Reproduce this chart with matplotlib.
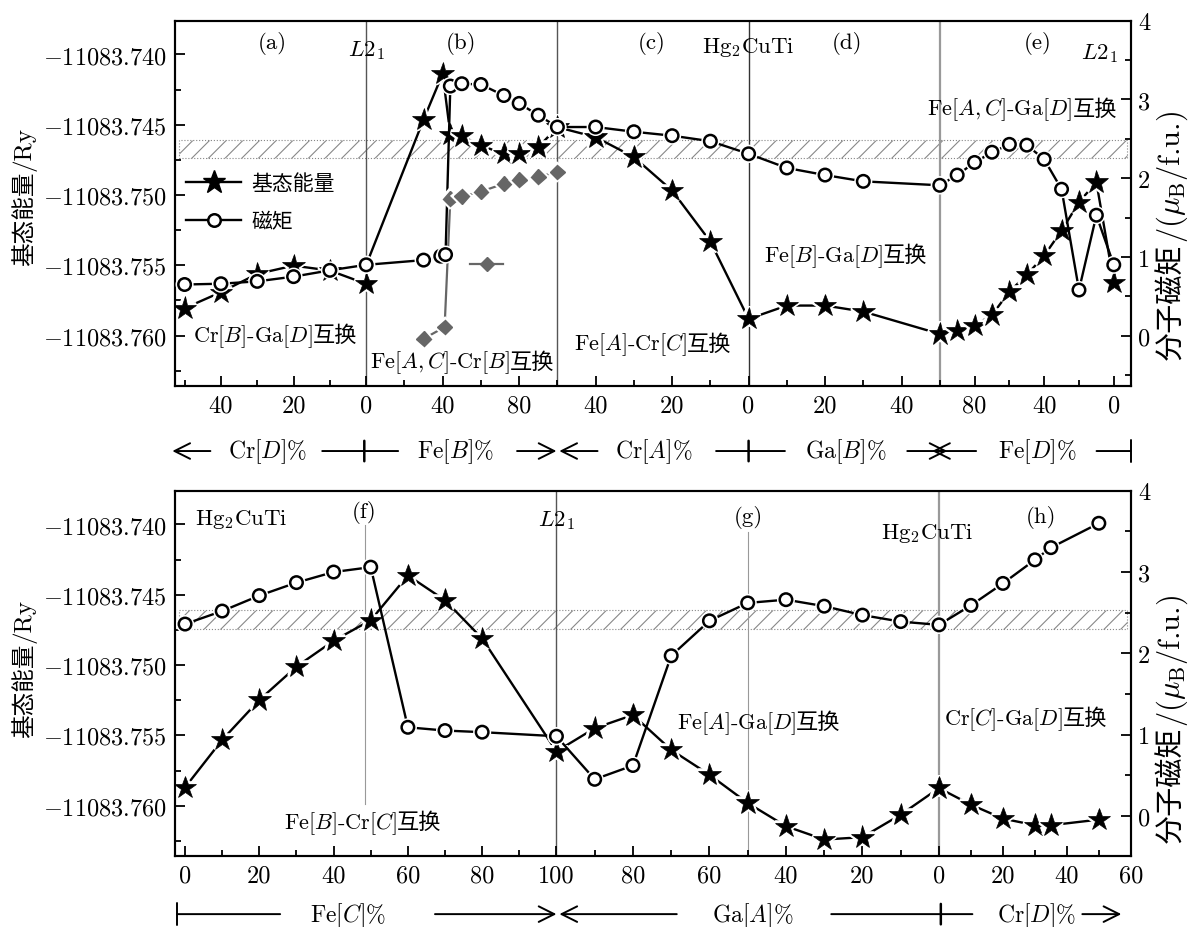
import matplotlib
matplotlib.use('Agg')
import matplotlib.pyplot as plt
import numpy as np
from matplotlib import transforms
from matplotlib import patheffects as pe
from matplotlib.lines import Line2D
from matplotlib.offsetbox import TextArea, HPacker, AnnotationBbox
from matplotlib.ticker import MultipleLocator, FuncFormatter

plt.rcParams['font.family'] = ['cmr10', 'Noto Sans CJK SC', 'DejaVu Sans']
plt.rcParams['mathtext.fontset'] = 'cm'
plt.rcParams['axes.formatter.use_mathtext'] = True
plt.rcParams['axes.unicode_minus'] = False
plt.rcParams['hatch.linewidth'] = 0.8
CJK = 'Noto Sans CJK SC'

# ---------------- upper panel ----------------
# (a) Cr[D]%   (b) Fe[B]%   (c) Cr[A]%   (d) Ga[B]%   (e) Fe[D]%
a_x = [50, 40, 30, 20, 10, 0]
a_E = [-11083.75805, -11083.75691, -11083.75561, -11083.75502, -11083.75537, -11083.75632]
a_M = [0.65, 0.66, 0.69, 0.75, 0.83, 0.90]

b_xE = [0, 30, 40, 44, 50, 60, 72, 80, 90, 100]
b_E = [-11083.75497, -11083.74463, -11083.74137, -11083.74570, -11083.74580,
       -11083.74648, -11083.74707, -11083.74707, -11083.74659, -11083.74517]
b_xM = [0, 30, 39, 41.5, 44, 50, 60, 72, 80, 90, 100]
b_M = [0.90, 0.96, 1.01, 1.03, 3.17, 3.20, 3.19, 3.05, 2.95, 2.80, 2.65]
b_xD = [30, 41, 44, 50, 60, 72, 80, 90, 100]
b_D = [-0.04, 0.11, 1.74, 1.77, 1.83, 1.93, 1.98, 2.02, 2.08]

c_x = [50, 40, 30, 20, 10, 0]
c_E = [-11083.74517, -11083.74588, -11083.74730, -11083.74968, -11083.75331, -11083.75881]
c_M = [2.65, 2.65, 2.59, 2.54, 2.47, 2.31]

d_x = [0, 10, 20, 30, 50]
d_E = [-11083.75881, -11083.75786, -11083.75786, -11083.75829, -11083.75988]
d_M = [2.31, 2.13, 2.04, 1.96, 1.91]

e_x = [100, 90, 80, 70, 60, 50, 40, 30, 20, 10, 0]
e_E = [-11083.75988, -11083.75964, -11083.75929, -11083.75853, -11083.75687, -11083.75568,
       -11083.75431, -11083.75253, -11083.75051, -11083.74908, -11083.75620]
e_M = [1.91, 2.04, 2.20, 2.33, 2.43, 2.42, 2.24, 1.86, 0.58, 1.53, 0.90]

# ---------------- lower panel ----------------
# (f) Fe[C]%   (g) Ga[A]%   (h) Cr[D]%
f_x = [0, 10, 20, 30, 40, 50, 60, 70, 80, 100]
f_E = [-11083.75870, -11083.75532, -11083.75248, -11083.75011, -11083.74827,
       -11083.74681, -11083.74362, -11083.74539, -11083.74811, -11083.75614]
f_M = [2.36, 2.52, 2.71, 2.87, 3.00, 3.06, 1.09, 1.05, 1.03, 0.98]

g_x = [100, 90, 80, 70, 60, 50, 40, 30, 20, 10, 0]
g_E = [-11083.75614, -11083.75449, -11083.75355, -11083.75603, -11083.75780, -11083.75981,
       -11083.76146, -11083.76241, -11083.76224, -11083.76064, -11083.75875]
g_M = [0.98, 0.45, 0.62, 1.97, 2.40, 2.62, 2.66, 2.58, 2.47, 2.39, 2.35]

h_x = [0, 10, 20, 30, 35, 50]
h_E = [-11083.75875, -11083.75993, -11083.76092, -11083.76139, -11083.76139, -11083.76099]
h_M = [2.35, 2.59, 2.86, 3.15, 3.30, 3.60]

band = [-11083.7474, -11083.7461]

# composition -> position on the shared x axis: (origin, slope) per segment
TOP = {'a': (0.0, -0.019), 'b': (0.0, 0.01), 'c': (2.0, -0.02), 'd': (2.0, 0.02), 'e': (3.91, -0.0091)}
BOT = {'f': (0.0, 1.0), 'g': (203.0, -1.03), 'h': (203.0, 0.861)}

TICK = 17.5


def pos(seg, v):
    return seg[0] + seg[1] * np.asarray(v, float)


MK = {
    'star': dict(marker='*', ms=17, color='k', mfc='k', mec='k', mew=0.5, lw=1.7),
    'circ': dict(marker='o', ms=9, mfc='white', mec='k', mew=1.8, color='k', lw=1.7),
    'diam': dict(marker='D', ms=7.5, mfc='#666666', mec='#666666', color='#666666', lw=1.6),
}


def series(ax, x, y, kind, skip=0):
    st = MK[kind]
    ax.plot(x, y, color=st['color'], lw=st['lw'], zorder=2)
    kw = {k: v for k, v in st.items() if k != 'lw'}
    ax.plot(x[skip:], y[skip:], ls='none', zorder=3,
            path_effects=[pe.withStroke(linewidth=4, foreground='white')], **kw)


def blend(ax):
    return transforms.blended_transform_factory(ax.transData, ax.transAxes)


def label(ax, x, y, parts, size=16):
    kids = [TextArea(s, textprops=dict(size=size, family=CJK if cjk else 'cmr10')) for s, cjk in parts]
    box = HPacker(children=kids, align='baseline', pad=0, sep=0)
    ab = AnnotationBbox(box, (x, y), xycoords=blend(ax), frameon=False, pad=0,
                        box_alignment=(0.5, 0.5), annotation_clip=False, zorder=5)
    ax.add_artist(ab)


def arrow(ax, x0, x1, y, style='->'):
    T = blend(ax)
    ax.annotate('', xy=(x1, y), xytext=(x0, y), xycoords=T, textcoords=T, annotation_clip=False,
                arrowprops=dict(arrowstyle=style, lw=1.4, color='k', shrinkA=0, shrinkB=0,
                                mutation_scale=28))


def bar(ax, x, y):
    T = blend(ax)
    ax.annotate('', xy=(x, y - 0.028), xytext=(x, y + 0.028), xycoords=T, textcoords=T,
                annotation_clip=False, arrowprops=dict(arrowstyle='-', lw=1.8, color='k',
                                                       shrinkA=0, shrinkB=0))


def set_xticks(ax, segs, spec):
    major, labels, minor = [], [], []
    for key, mn, mj in spec:
        minor += list(pos(segs[key], mn))
        major += list(pos(segs[key], mj))
        labels += [str(v) for v in mj]
    ax.set_xticks(major, labels)
    ax.set_xticks(minor, minor=True)


def style_axes(ax, ax2, rlim):
    ax.set_ylim(-11083.76356, -11083.7376)
    ax.yaxis.set_major_locator(MultipleLocator(0.005))
    ax.yaxis.set_minor_locator(MultipleLocator(0.0025))
    ax.yaxis.set_major_formatter(FuncFormatter(lambda v, p: '$%.3f$' % v))
    ax.tick_params(which='both', direction='in', top=False, right=False, labelsize=TICK, width=1.3)
    ax.tick_params(which='major', length=7, pad=6)
    ax.tick_params(which='minor', length=4)
    ax2.set_ylim(*rlim)
    ax2.yaxis.set_major_locator(MultipleLocator(1))
    ax2.yaxis.set_minor_locator(MultipleLocator(0.5))
    ax2.yaxis.set_major_formatter(FuncFormatter(lambda v, p: '%d' % round(v)))
    ax2.tick_params(which='both', direction='in', labelsize=TICK, width=1.3)
    ax2.tick_params(which='major', length=7, pad=5)
    ax2.tick_params(which='minor', length=4)
    for a in (ax, ax2):
        for s in a.spines.values():
            s.set_linewidth(1.5)
    ax.axhspan(band[0], band[1], xmin=0.004, xmax=0.996, facecolor='none', edgecolor='#888888',
               hatch='//', lw=0.8, ls=':', zorder=1)


def ylabels(ybase_l, ybase_r):
    fig.text(0.0258, ybase_l, '基态能量', family=CJK, size=17, rotation=90,
             rotation_mode='anchor', ha='right', va='baseline')
    fig.text(0.0258, ybase_l, '/Ry', family='cmr10', size=18, rotation=90,
             rotation_mode='anchor', ha='left', va='baseline')
    fig.text(0.992, ybase_r, '分子磁矩', family=CJK, size=21, rotation=90,
             rotation_mode='anchor', ha='right', va='baseline')
    fig.text(0.992, ybase_r, r'/($\mu_{\rm B}$/f.u.)', family='cmr10', size=22, rotation=90,
             rotation_mode='anchor', ha='left', va='baseline')


fig = plt.figure(figsize=(11.89, 9.28), dpi=100)

# ================= upper panel =================
ax = fig.add_axes([0.1472, 0.5833, 0.8040, 0.3933])
ax2 = ax.twinx()
ax.set_xlim(-1.0, 4.0)
style_axes(ax, ax2, (-0.635, 4.0))

ax.axvline(0, color='#555555', lw=1.0, zorder=1)
ax.axvline(1, color='#555555', lw=1.0, zorder=1)
ax.axvline(2, color='#333333', lw=1.0, zorder=1)
ax.axvline(3, color='#999999', lw=1.6, zorder=1)

for key, xs, E in [('a', a_x, a_E), ('b', b_xE, b_E), ('c', c_x, c_E), ('d', d_x, d_E), ('e', e_x, e_E)]:
    series(ax, pos(TOP[key], xs), np.array(E), 'star', skip=1 if key == 'b' else 0)
for key, xs, M in [('a', a_x, a_M), ('b', b_xM, b_M), ('c', c_x, c_M), ('d', d_x, d_M), ('e', e_x, e_M)]:
    series(ax2, pos(TOP[key], xs), np.array(M), 'circ')
series(ax2, pos(TOP['b'], b_xD), np.array(b_D), 'diam')

set_xticks(ax, TOP, [('a', [50, 30, 10], [40, 20, 0]), ('b', [20, 60, 100], [40, 80]),
                     ('c', [30, 10], [40, 20, 0]), ('d', [10, 30, 50], [20, 40]),
                     ('e', [60, 20], [80, 40, 0])])

T = blend(ax2)
for x, y, s in [(-0.49, 0.939, '(a)'), (0.0, 0.922, '$L2_1$'), (0.497, 0.939, '(b)'),
                (1.495, 0.939, '(c)'), (2.0, 0.929, 'Hg$_2$CuTi'), (2.514, 0.939, '(d)'),
                (3.51, 0.939, '(e)'), (3.837, 0.914, '$L2_1$')]:
    ax2.text(x, y, s, transform=T, ha='center', va='center', size=16.5)
label(ax2, 3.43, 0.758, [('Fe[$A,C$]-Ga[$D$]', 0), ('互换', 1)])
label(ax2, -0.478, 0.137, [('Cr[$B$]-Ga[$D$]', 0), ('互换', 1)])
label(ax2, 0.503, 0.065, [('Fe[$A,C$]-Cr[$B$]', 0), ('互换', 1)])
label(ax2, 1.50, 0.114, [('Fe[$A$]-Cr[$C$]', 0), ('互换', 1)])
label(ax2, 2.507, 0.356, [('Fe[$B$]-Ga[$D$]', 0), ('互换', 1)])

h_star = Line2D([], [], color='k', lw=1.7, marker='*', ms=17)
h_circ = Line2D([], [], color='k', lw=1.7, marker='o', ms=9, mfc='white', mew=1.8)
leg = ax2.legend([h_star, h_circ], ['基态能量', '磁矩'], loc='upper left',
                 bbox_to_anchor=(0.012, 0.585), frameon=False, prop=dict(family=CJK, size=15),
                 handlelength=2.6, handletextpad=0.5, labelspacing=0.75, borderpad=0, borderaxespad=0)
ax2.add_artist(leg)
h_diam = Line2D([], [], color='#666666', lw=1.6, marker='D', ms=7.5)
ax2.legend([h_diam], [''], loc='center left', bbox_to_anchor=(0.3086, 0.329), frameon=False,
           prop=dict(size=10), handlelength=2.4, borderpad=0, borderaxespad=0, handletextpad=0)

yr = -0.179
arrow(ax, -0.815, -1.014, yr)
ax.text(-0.517, yr, 'Cr[$D$]%', transform=blend(ax), ha='center', va='center', size=17)
arrow(ax, -0.23, 0.167, yr, '-')
bar(ax, -0.01, yr)
ax.text(0.465, yr, 'Fe[$B$]%', transform=blend(ax), ha='center', va='center', size=17)
arrow(ax, 0.789, 0.995, yr)
arrow(ax, 1.21, 1.01, yr)
ax.text(1.505, yr, 'Cr[$A$]%', transform=blend(ax), ha='center', va='center', size=17)
arrow(ax, 1.83, 2.19, yr, '-')
bar(ax, 2.0, yr)
ax.text(2.51, yr, 'Ga[$B$]%', transform=blend(ax), ha='center', va='center', size=17)
arrow(ax, 2.83, 3.04, yr)
arrow(ax, 3.19, 2.96, yr)
ax.text(3.51, yr, 'Fe[$D$]%', transform=blend(ax), ha='center', va='center', size=17)
arrow(ax, 3.82, 4.0, yr, '|-|, widthA=0, widthB=0.28')

# ================= lower panel =================
bx = fig.add_axes([0.1472, 0.0768, 0.8040, 0.3933])
bx2 = bx.twinx()
bx.set_xlim(-2.7, 254.7)
style_axes(bx, bx2, (-0.49, 4.0))

bx.axvline(48.5, ymin=0.142, ymax=0.905, color='#999999', lw=0.8, zorder=1)
bx.axvline(100, color='#555555', lw=1.0, zorder=1)
bx.axvline(151.5, ymin=0.0, ymax=0.886, color='#999999', lw=0.8, zorder=1)
bx.axvline(203, color='#999999', lw=1.6, zorder=1)

for key, xs, E in [('f', f_x, f_E), ('g', g_x, g_E), ('h', h_x, h_E)]:
    series(bx, pos(BOT[key], xs), np.array(E), 'star')
for key, xs, M in [('f', f_x, f_M), ('g', g_x, g_M), ('h', h_x, h_M)]:
    series(bx2, pos(BOT[key], xs), np.array(M), 'circ')

set_xticks(bx, BOT, [('f', [10, 30, 50, 70, 90], [0, 20, 40, 60, 80, 100]),
                     ('g', [90, 70, 50, 30, 10], [80, 60, 40, 20, 0]),
                     ('h', [10, 30, 50], [20, 40, 60])])

T = blend(bx2)
for x, y, s in [(15.1, 0.923, 'Hg$_2$CuTi'), (48.2, 0.942, '(f)'), (100, 0.922, '$L2_1$'),
                (151.7, 0.93, '(g)'), (199.9, 0.886, 'Hg$_2$CuTi'), (230.6, 0.93, '(h)')]:
    bx2.text(x, y, s, transform=T, ha='center', va='center', size=16.5)
label(bx2, 47.8, 0.092, [('Fe[$B$]-Cr[$C$]', 0), ('互换', 1)])
label(bx2, 154.4, 0.366, [('Fe[$A$]-Ga[$D$]', 0), ('互换', 1)])
label(bx2, 226.3, 0.375, [('Cr[$C$]-Ga[$D$]', 0), ('互换', 1)])

yr = -0.16
arrow(bx, -2.15, 25.6, yr, '|-|, widthA=0.28, widthB=0')
bx.text(43.9, yr, 'Fe[$C$]%', transform=blend(bx), ha='center', va='center', size=17)
arrow(bx, 67.3, 100.0, yr)
arrow(bx, 132.4, 100.8, yr)
bx.text(152.8, yr, 'Ga[$A$]%', transform=blend(bx), ha='center', va='center', size=17)
arrow(bx, 174, 212, yr, '-')
bar(bx, 203.5, yr)
bx.text(229.2, yr, 'Cr[$D$]%', transform=blend(bx), ha='center', va='center', size=17)
arrow(bx, 241.6, 252.1, yr)

ylabels(0.8157, 0.738)
ylabels(0.3071, 0.217)

fig.savefig('out.png', dpi=100)
